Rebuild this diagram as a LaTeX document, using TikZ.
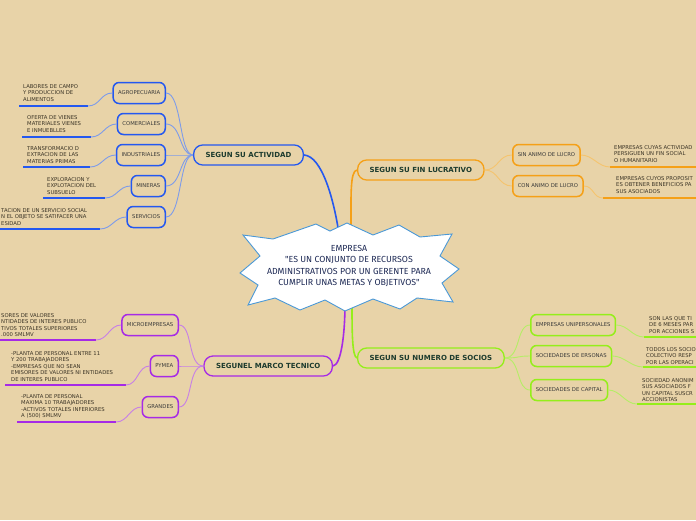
\documentclass[tikz,border=0pt]{standalone}
\usepackage{fontspec}
\setmainfont{DejaVu Sans}
\newfontfamily\centerfont{Fira Sans}
\definecolor{bgc}{HTML}{E8D3A8}
\definecolor{blueM}{HTML}{2458F0}
\definecolor{blueL}{HTML}{7D9BEA}
\definecolor{orangeM}{HTML}{F5A017}
\definecolor{orangeL}{HTML}{F5C46E}
\definecolor{greenM}{HTML}{95EE1A}
\definecolor{greenL}{HTML}{B5EE66}
\definecolor{purpM}{HTML}{A62AE6}
\definecolor{purpL}{HTML}{C77FE6}
\definecolor{starline}{HTML}{4A98D6}
\definecolor{leaftext}{HTML}{3B3426}
\definecolor{childtext}{HTML}{3A3A3A}
\definecolor{branchtext}{HTML}{1C3B2E}
\definecolor{centertext}{HTML}{1E2A55}
\begin{document}
\begin{tikzpicture}[x=1pt,y=-1pt,
  leaf/.style={anchor=north west, align=left, inner sep=0pt, font=\fontsize{5.3pt}{6.5pt}\selectfont, text=leaftext},
  child/.style={draw, rounded corners=6pt, line width=1.5pt, inner xsep=5pt, minimum height=21pt, font=\fontsize{5.3pt}{6pt}\selectfont, text=childtext},
  branch/.style={draw, rounded corners=9pt, line width=1.3pt, inner xsep=12pt, minimum height=20pt, font=\bfseries\fontsize{7pt}{8pt}\selectfont, text=branchtext},
  uline/.style={line width=2pt},
  thin/.style={line width=0.9pt},
  main/.style={line width=1.6pt}]
\useasboundingbox (0,0) rectangle (696,520);
\clip (0,0) rectangle (696,520);
\fill[bgc] (0,0) rectangle (696,520);

% ---------- branch nodes ----------
\node[branch, draw=blueM, anchor=east] (act) at (304,155) {SEGUN SU ACTIVIDAD};
\node[branch, draw=orangeM, anchor=west] (fin) at (357,170) {SEGUN SU FIN LUCRATIVO};
\node[branch, draw=greenM, anchor=west] (socios) at (357,358) {SEGUN SU NUMERO DE SOCIOS};
\node[branch, draw=purpM, anchor=east] (marco) at (333,366) {SEGUNEL MARCO TECNICO};

% ---------- children ----------
\node[child, draw=blueM, anchor=east] (agro) at (166,93) {AGROPECUARIA};
\node[child, draw=blueM, anchor=east] (com) at (166,124) {COMERCIALES};
\node[child, draw=blueM, anchor=east] (ind) at (166,155) {INDUSTRIALES};
\node[child, draw=blueM, anchor=east] (min) at (166,186) {MINERAS};
\node[child, draw=blueM, anchor=east] (serv) at (166,217) {SERVICIOS};

\node[child, draw=orangeM, anchor=west] (sin) at (512,155) {SIN ANIMO DE LUCRO};
\node[child, draw=orangeM, anchor=west] (con) at (512,186) {CON ANIMO DE LUCRO};

\node[child, draw=greenM, anchor=west] (unip) at (530,325) {EMPRESAS UNIPERSONALES};
\node[child, draw=greenM, anchor=west] (pers) at (530,356) {SOCIEDADES DE ERSONAS};
\node[child, draw=greenM, anchor=west] (capi) at (530,390) {SOCIEDADES DE CAPITAL};

\node[child, draw=purpM, anchor=east] (micro) at (179,325) {MICROEMPRESAS};
\node[child, draw=purpM, anchor=east] (pyme) at (179,366) {PYMEA};
\node[child, draw=purpM, anchor=east] (gran) at (179,407) {GRANDES};

% ---------- leaf texts ----------
\node[leaf] (t1) at (23,84) {LABORES DE CAMPO\\Y PRODUCCION DE\\ALIMENTOS};
\node[leaf] (t2) at (27,115) {OFERTA DE VIENES\\MATERIALES VIENES\\E INMUEBLLES};
\node[leaf] (t3) at (27,146) {TRANSFORMACIO D\\EXTRACION DE LAS\\MATERIAS PRIMAS};
\node[leaf] (t4) at (47,177) {EXPLORACION Y\\EXPLOTACION DEL\\SUBSUELO};
\node[leaf] (t5) at (1,208) {TACION DE UN SERVICIO SOCIAL\\N EL OBJETO SE SATIFACER UNA\\ESIDAD};

\node[leaf] (t6) at (1,313) {SORES DE VALORES\\NTIDADES DE INTERES PUBLICO\\TIVOS TOTALES SUPERIORES\\.000 SMLMV};
\node[leaf] (t7) at (11,351) {-PLANTA DE PERSONAL ENTRE 11\\Y 200 TRABAJADORES\\-EMPRESAS QUE NO SEAN\\EMISORES DE VALORES NI ENTIDADES\\DE INTERES PUBLICO};
\node[leaf] (t8) at (21,394) {-PLANTA DE PERSONAL\\MAXIMA 10 TRABAJADORES\\-ACTIVOS TOTALES INFERIORES\\A (500) SMLMV};

\node[leaf] (t9) at (614,145) {EMPRESAS CUYAS ACTIVIDAD\\PERSIGUEN UN FIN SOCIAL\\O HUMANITARIO};
\node[leaf] (t10) at (616,176) {EMPRESAS CUYOS PROPOSIT\\ES OBTENER BENEFICIOS PA\\SUS ASOCIADOS};

\node[leaf] (t11) at (649,316) {SON LAS QUE TI\\DE 6 MESES PAR\\POR ACCIONES S};
\node[leaf] (t12) at (646,347) {TODOS LOS SOCIO\\COLECTIVO RESP\\POR LAS OPERACI};
\node[leaf] (t13) at (642,378) {SOCIEDAD ANONIM\\SUS ASOCIADOS F\\UN CAPITAL SUSCR\\ACCIONISTAS};

% ---------- underline coordinates ----------
\coordinate (u1a) at (19,106);  \coordinate (u1b) at (88,106);
\coordinate (u2a) at (22,137);  \coordinate (u2b) at (91,137);
\coordinate (u3a) at (23,167);  \coordinate (u3b) at (90,167);
\coordinate (u4a) at (43,198);  \coordinate (u4b) at (105,198);
\coordinate (u5a) at (-5,229);  \coordinate (u5b) at (100,229);
\coordinate (u6a) at (-5,340);  \coordinate (u6b) at (96,340);
\coordinate (u7a) at (5,385);   \coordinate (u7b) at (126,385);
\coordinate (u8a) at (17,422);  \coordinate (u8b) at (116,422);
\coordinate (u9a) at (610,167); \coordinate (u9b) at (702,167);
\coordinate (u10a) at (603,198); \coordinate (u10b) at (702,198);
\coordinate (u11a) at (644,337); \coordinate (u11b) at (702,337);
\coordinate (u12a) at (643,367); \coordinate (u12b) at (702,367);
\coordinate (u13a) at (637,404); \coordinate (u13b) at (702,404);

% ---------- leaf connectors ----------
\begin{scope}[blueM]
\draw[uline] (u1a) -- (u1b); \draw[thin, blueL] (u1b) .. controls +(12,0) and +(-12,0) .. (agro.west);
\draw[uline] (u2a) -- (u2b); \draw[thin, blueL] (u2b) .. controls +(12,0) and +(-12,0) .. (com.west);
\draw[uline] (u3a) -- (u3b); \draw[thin, blueL] (u3b) .. controls +(12,0) and +(-12,0) .. (ind.west);
\draw[uline] (u4a) -- (u4b); \draw[thin, blueL] (u4b) .. controls +(12,0) and +(-12,0) .. (min.west);
\draw[uline] (u5a) -- (u5b); \draw[thin, blueL] (u5b) .. controls +(12,0) and +(-12,0) .. (serv.west);
\end{scope}
\begin{scope}[purpM]
\draw[uline] (u6a) -- (u6b); \draw[thin, purpL] (u6b) .. controls +(12,0) and +(-12,0) .. (micro.west);
\draw[uline] (u7a) -- (u7b); \draw[thin, purpL] (u7b) .. controls +(12,0) and +(-12,0) .. (pyme.west);
\draw[uline] (u8a) -- (u8b); \draw[thin, purpL] (u8b) .. controls +(12,0) and +(-12,0) .. (gran.west);
\end{scope}
\begin{scope}[orangeM]
\draw[uline] (u9a) -- (u9b); \draw[thin, orangeL] (sin.east) .. controls +(12,0) and +(-12,0) .. (u9a);
\draw[uline] (u10a) -- (u10b); \draw[thin, orangeL] (con.east) .. controls +(10,0) and +(-10,0) .. (u10a);
\end{scope}
\begin{scope}[greenM]
\draw[uline] (u11a) -- (u11b); \draw[thin, greenL] (unip.east) .. controls +(12,0) and +(-12,0) .. (u11a);
\draw[uline] (u12a) -- (u12b); \draw[thin, greenL] (pers.east) .. controls +(12,0) and +(-12,0) .. (u12a);
\draw[uline] (u13a) -- (u13b); \draw[thin, greenL] (capi.east) .. controls +(12,0) and +(-12,0) .. (u13a);
\end{scope}

% ---------- child to branch connectors ----------
\foreach \c in {agro,com,ind,min,serv}
  \draw[thin, blueL] (\c.east) .. controls +(16,0) and +(-14,0) .. (act.west);
\foreach \c in {sin,con}
  \draw[thin, orangeL] (fin.east) .. controls +(14,0) and +(-14,0) .. (\c.west);
\foreach \c in {unip,pers,capi}
  \draw[thin, greenL] (socios.east) .. controls +(16,0) and +(-14,0) .. (\c.west);
\foreach \c in {micro,pyme,gran}
  \draw[thin, purpL] (marco.west) .. controls +(-16,0) and +(14,0) .. (\c.east);

% ---------- center connectors ----------
\coordinate (cb) at (339,234);
\coordinate (co) at (351,232);
\coordinate (cp) at (345,303);
\coordinate (cg) at (352,303);
\draw[main, blueM] (act.east) .. controls (322,156) and (334,200) .. (cb);
\draw[main, orangeM] (fin.west) .. controls (350,171) and (351,195) .. (co);
\draw[main, purpM] (marco.east) .. controls (341,365) and (345,335) .. (cp);
\draw[main, greenM] (socios.west) .. controls (352,357) and (352,330) .. (cg);

% ---------- star ----------
\draw[fill=white, draw=starline, line width=0.9pt, line join=miter]
  (243,235) -- (273,239) -- (316,224) -- (330,231) -- (347,223) -- (373,235)
  -- (399,225) -- (420,237) -- (452,234) -- (440,256) -- (459,269) -- (442,283)
  -- (453,302) -- (417,298) -- (400,309) -- (373,299) -- (345,311) -- (325,300)
  -- (300,310) -- (275,298) -- (248,305) -- (258,285) -- (240,273) -- (260,256) -- cycle;
\node[align=center, inner sep=0pt, font=\centerfont\fontsize{8.8pt}{11.3pt}\selectfont, text=centertext] (center) at (349,266)
  {EMPRESA\\"ES UN CONJUNTO DE RECURSOS\\ADMINISTRATIVOS POR UN GERENTE PARA\\CUMPLIR UNAS METAS Y OBJETIVOS"};
\end{tikzpicture}
\end{document}
